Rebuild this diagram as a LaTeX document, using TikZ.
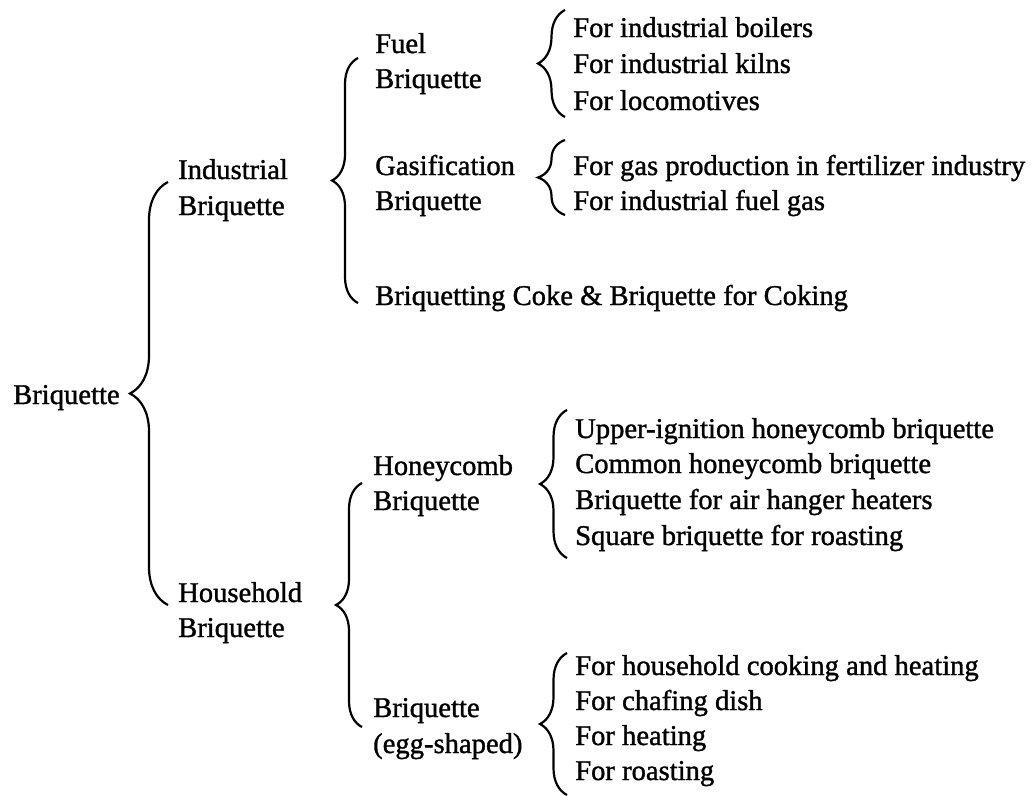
\documentclass[tikz,border=0pt]{standalone}
\usepackage{fontspec}
\setmainfont{Liberation Serif}[FakeBold=1.2]
\usetikzlibrary{decorations.pathreplacing}
\begin{document}
\begin{tikzpicture}[x=1pt,y=-1pt,
  lbl/.style={anchor=base west,inner sep=0pt,font=\fontsize{28.6}{34}\selectfont},
  brc/.style={decorate,decoration={brace,amplitude=#1},line width=2.2pt},
  brc/.default=27pt]
\useasboundingbox (0,0) rectangle (1035,795);
% labels
\node[lbl] (root) at (13,404) {Briquette};
\node[lbl] (ind1) at (178,179) {Industrial};
\node[lbl] (ind2) at (178,215) {Briquette};
\node[lbl] (hh1) at (178,602) {Household};
\node[lbl] (hh2) at (178,637) {Briquette};
\node[lbl] (fuel1) at (375,53) {Fuel};
\node[lbl] (fuel2) at (375,88) {Briquette};
\node[lbl] (gas1) at (375,175) {Gasification};
\node[lbl] (gas2) at (375,210) {Briquette};
\node[lbl] (coke) at (375,305) {Briquetting Coke \& Briquette for Coking};
\node[lbl] (hc1) at (373,475) {Honeycomb};
\node[lbl] (hc2) at (373,510) {Briquette};
\node[lbl] (egg1) at (373,717) {Briquette};
\node[lbl] (egg2) at (373,753) {(egg-shaped)};
\node[lbl] (f1) at (573,37) {For industrial boilers};
\node[lbl] (f2) at (573,73) {For industrial kilns};
\node[lbl] (f3) at (573,110) {For locomotives};
\node[lbl] (g1) at (573,175) {For gas production in fertilizer industry};
\node[lbl] (g2) at (573,210) {For industrial fuel gas};
\node[lbl] (h1) at (575,438) {Upper-ignition honeycomb briquette};
\node[lbl] (h2) at (575,473) {Common honeycomb briquette};
\node[lbl] (h3) at (575,509) {Briquette for air hanger heaters};
\node[lbl] (h4) at (575,545) {Square briquette for roasting};
\node[lbl] (e1) at (575,675) {For household cooking and heating};
\node[lbl] (e2) at (575,710) {For chafing dish};
\node[lbl] (e3) at (575,745) {For heating};
\node[lbl] (e4) at (575,780) {For roasting};
% brace end points
\coordinate (rootB) at (168,605); \coordinate (rootT) at (168,182);
\coordinate (indB) at (358,303); \coordinate (indT) at (358,58);
\coordinate (hhB) at (362,727); \coordinate (hhT) at (362,483);
\coordinate (fuelB) at (565,117); \coordinate (fuelT) at (565,10);
\coordinate (gasB) at (565,215); \coordinate (gasT) at (565,140);
\coordinate (hcB) at (567,558); \coordinate (hcT) at (567,410);
\coordinate (eggB) at (567,795); \coordinate (eggT) at (567,653);
% braces
\draw[brc=38pt] (rootB) -- (rootT);
\draw[brc=26pt] (indB) -- (indT);
\draw[brc=26pt] (hhB) -- (hhT);
\draw[brc] (fuelB) -- (fuelT);
\draw[brc] (gasB) -- (gasT);
\draw[brc] (hcB) -- (hcT);
\draw[brc] (eggB) -- (eggT);
\end{tikzpicture}
\end{document}
